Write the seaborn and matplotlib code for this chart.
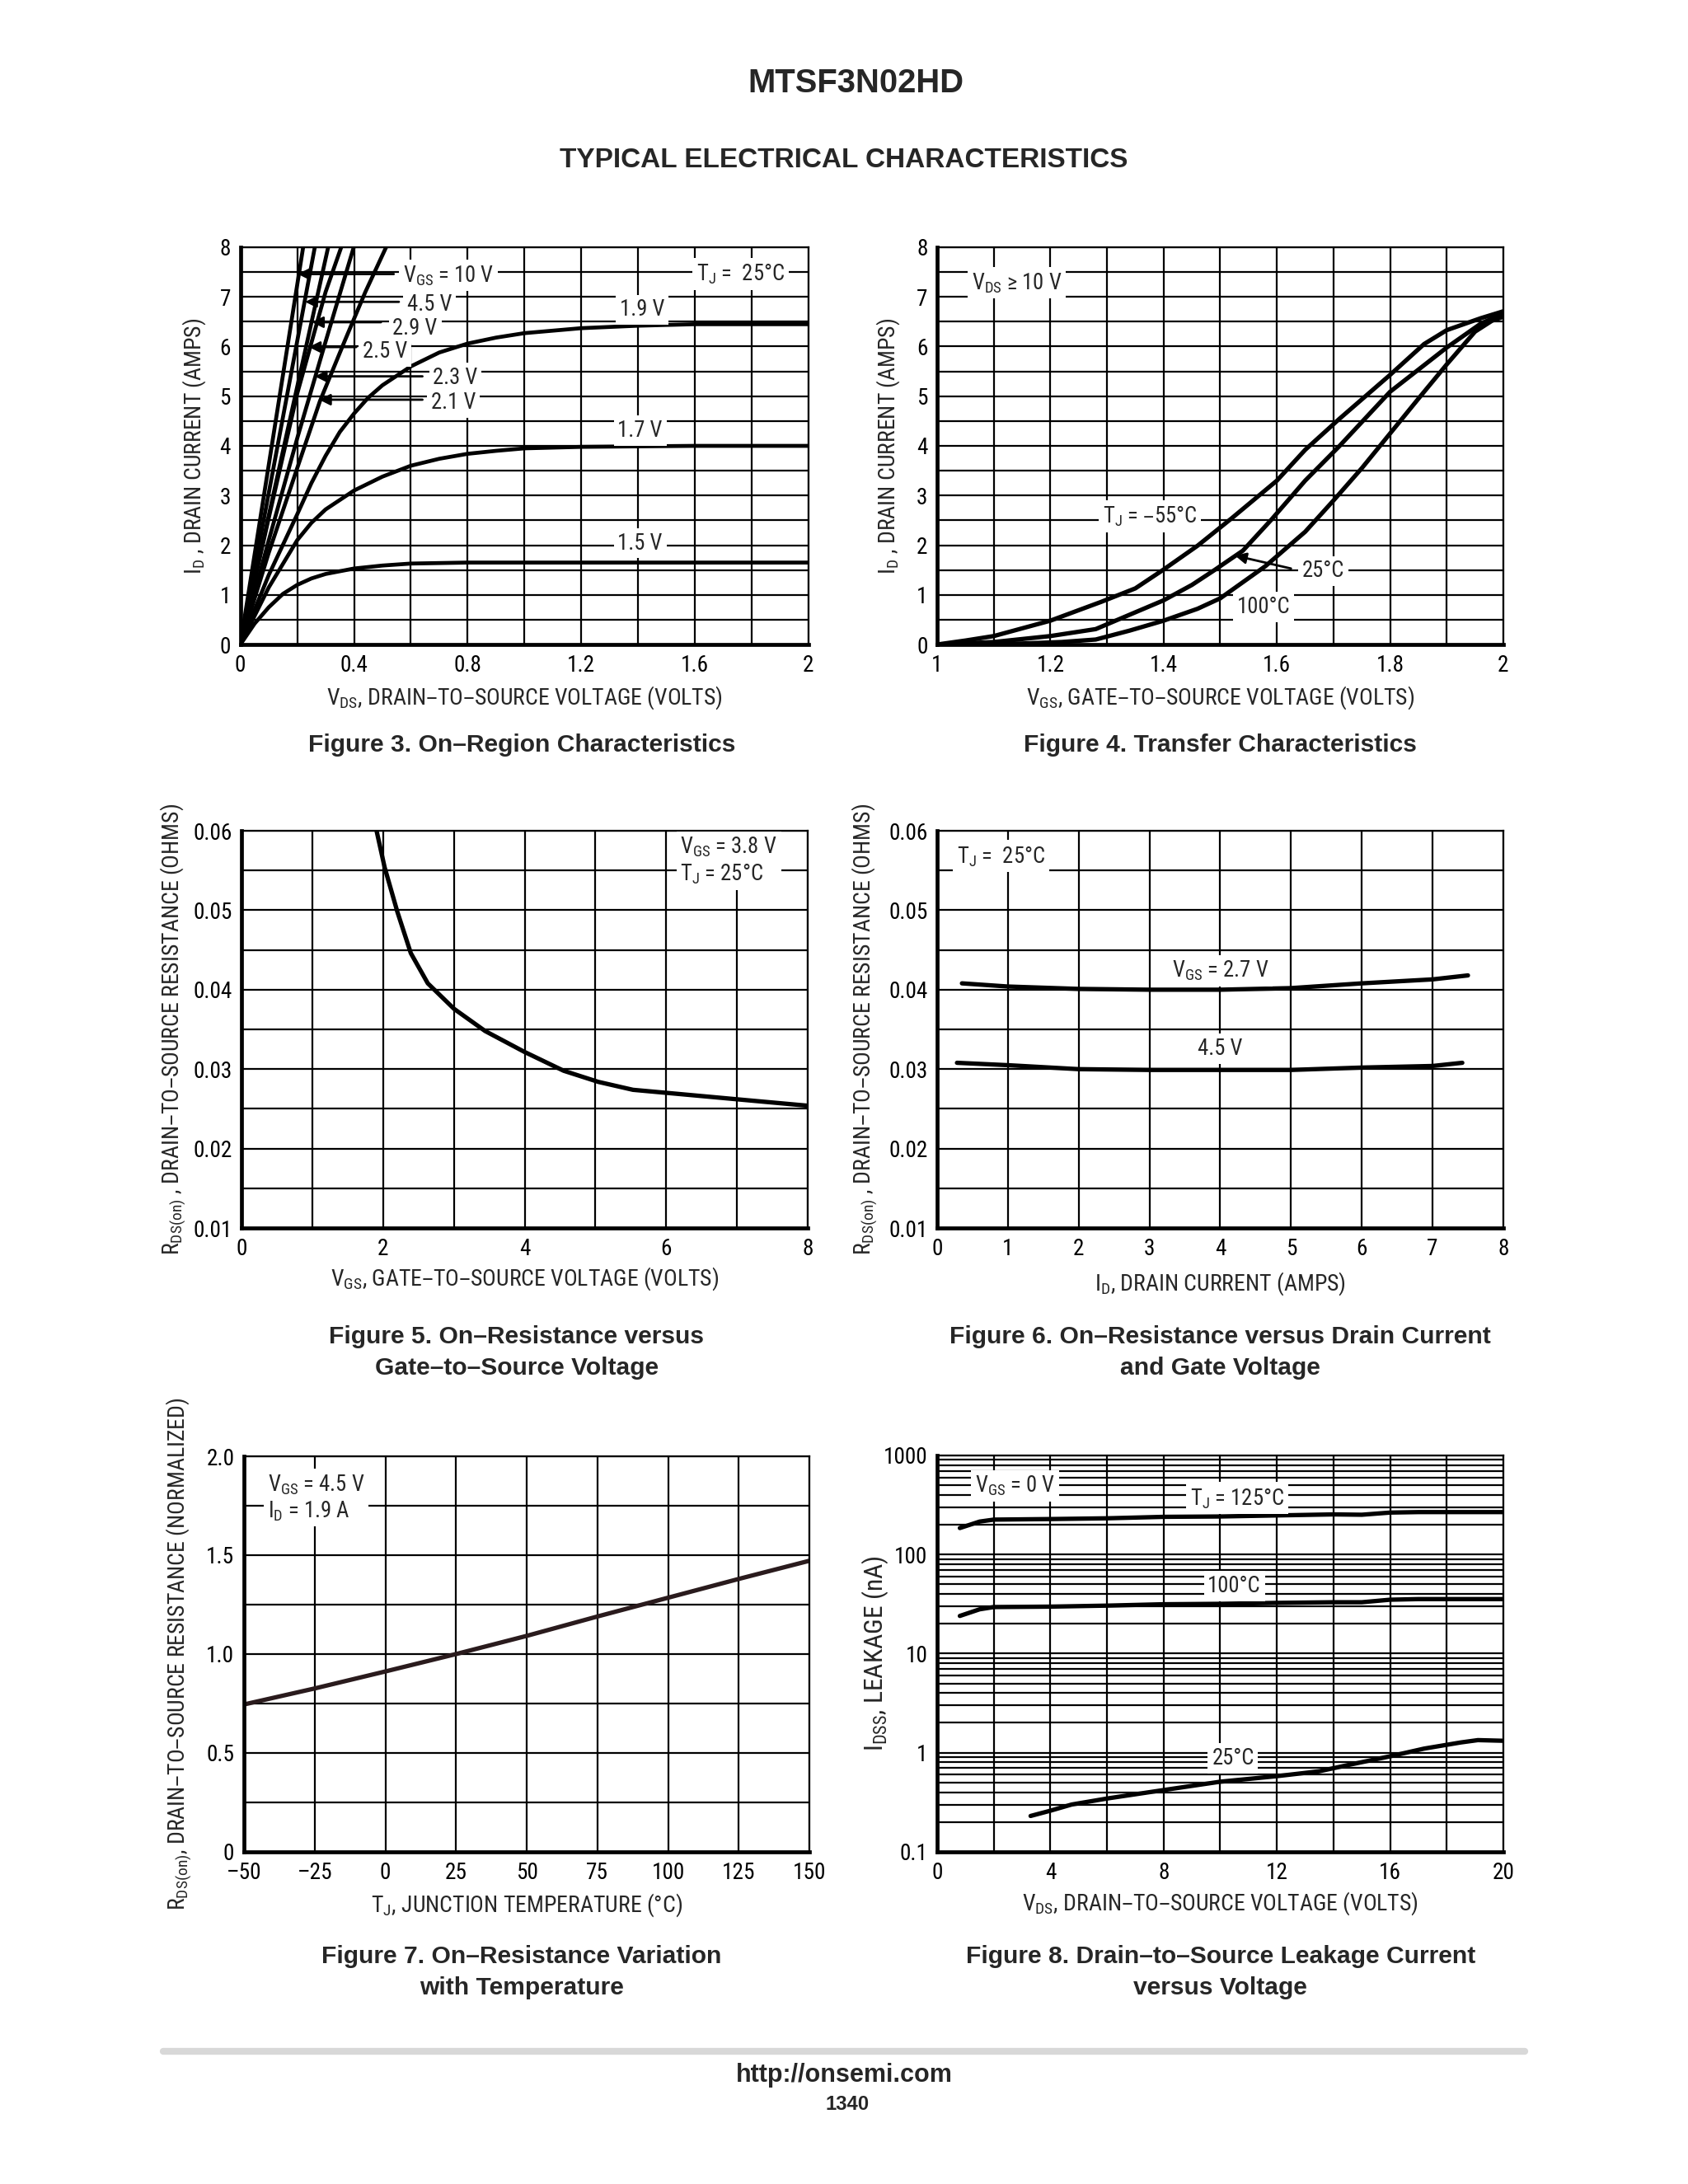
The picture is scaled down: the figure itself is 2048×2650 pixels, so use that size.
import numpy as np
import pandas as pd
import matplotlib
matplotlib.use("Agg")
import matplotlib.pyplot as plt
import seaborn as sns
from matplotlib import font_manager as fm
from matplotlib.lines import Line2D
from matplotlib.ticker import MultipleLocator, LogLocator, NullFormatter

# ---------------- DATA ----------------
# Figure 3: On-region characteristics (VDS [V], ID [A])
F3_V_10 = [0.0, 0.221]
F3_I_10 = [0.0, 8.0]
F3_V_45 = [0.0, 0.262]
F3_I_45 = [0.0, 8.0]
F3_V_29 = [0.0, 0.15, 0.309]
F3_I_29 = [0.0, 3.9, 8.0]
F3_V_25 = [0.0, 0.10, 0.20, 0.30, 0.355]
F3_I_25 = [0.0, 2.55, 5.05, 7.1, 8.0]
F3_V_23 = [0.0, 0.10, 0.20, 0.30, 0.399]
F3_I_23 = [0.0, 2.1, 4.15, 6.1, 8.0]
F3_V_21 = [0.0, 0.10, 0.20, 0.28, 0.37, 0.44, 0.513]
F3_I_21 = [0.0, 1.85, 3.55, 4.9, 6.15, 7.1, 8.0]
F3_V_19 = [0.0, 0.1, 0.2, 0.25, 0.3, 0.35, 0.4, 0.45, 0.5, 0.6, 0.7, 0.8, 0.9, 1.0, 1.2, 1.4, 1.6, 2.0]
F3_I_19 = [0.0, 1.4, 2.62, 3.25, 3.8, 4.28, 4.65, 4.97, 5.22, 5.6, 5.88, 6.06, 6.18, 6.27, 6.37, 6.42, 6.45, 6.45]
F3_V_17 = [0.0, 0.1, 0.2, 0.25, 0.3, 0.4, 0.5, 0.6, 0.7, 0.8, 0.9, 1.0, 1.2, 1.6, 2.0]
F3_I_17 = [0.0, 1.15, 2.1, 2.45, 2.72, 3.1, 3.38, 3.6, 3.74, 3.84, 3.9, 3.95, 3.98, 4.0, 4.0]
F3_V_15 = [0.0, 0.05, 0.1, 0.15, 0.2, 0.25, 0.3, 0.4, 0.5, 0.6, 0.8, 1.2, 2.0]
F3_I_15 = [0.0, 0.42, 0.75, 1.02, 1.2, 1.33, 1.42, 1.53, 1.59, 1.63, 1.65, 1.65, 1.65]

# Figure 4: Transfer characteristics (VGS [V], ID [A])
F4_V_M55 = [1.0, 1.05, 1.10, 1.20, 1.29, 1.35, 1.40, 1.46, 1.52, 1.60, 1.65, 1.71, 1.80, 1.86, 1.90, 1.96, 2.0]
F4_I_M55 = [0.0, 0.08, 0.17, 0.48, 0.86, 1.13, 1.51, 1.99, 2.54, 3.30, 3.92, 4.54, 5.43, 6.05, 6.33, 6.57, 6.71]
F4_V_25 = [1.0, 1.10, 1.20, 1.28, 1.34, 1.40, 1.45, 1.49, 1.54, 1.59, 1.65, 1.71, 1.80, 1.90, 1.96, 2.0]
F4_I_25 = [0.0, 0.05, 0.17, 0.31, 0.60, 0.89, 1.2, 1.5, 1.89, 2.51, 3.30, 3.99, 5.09, 5.98, 6.46, 6.67]
F4_V_100 = [1.0, 1.15, 1.22, 1.28, 1.34, 1.40, 1.46, 1.50, 1.58, 1.65, 1.70, 1.75, 1.80, 1.85, 1.90, 1.95, 1.98, 2.0]
F4_I_100 = [0.0, 0.02, 0.05, 0.10, 0.28, 0.48, 0.72, 0.93, 1.58, 2.27, 2.9, 3.55, 4.25, 4.95, 5.64, 6.3, 6.52, 6.6]

# Figure 5: RDS(on) vs VGS
F5_VGS = [1.906, 2.02, 2.2, 2.39, 2.63, 3.0, 3.44, 3.99, 4.55, 5.04, 5.53, 6.15, 7.01, 8.0]
F5_RDS = [0.060, 0.0554, 0.0498, 0.0446, 0.0408, 0.0376, 0.0348, 0.0322, 0.0298, 0.0284, 0.0274, 0.0269, 0.0262, 0.0254]

# Figure 6: RDS(on) vs ID
F6_ID_27 = [0.35, 1.0, 2.0, 3.0, 4.0, 5.0, 6.0, 7.0, 7.5]
F6_R_27 = [0.0408, 0.0404, 0.0401, 0.0400, 0.0400, 0.0402, 0.0408, 0.0413, 0.0418]
F6_ID_45 = [0.28, 1.0, 2.0, 3.0, 4.0, 5.0, 6.0, 7.0, 7.42]
F6_R_45 = [0.0308, 0.0305, 0.0300, 0.0299, 0.0299, 0.0299, 0.0302, 0.0304, 0.0308]

# Figure 7: normalized RDS(on) vs TJ
F7_TJ = [-50, -25, 0, 25, 50, 75, 100, 125, 150]
F7_RN = [0.745, 0.826, 0.912, 1.0, 1.092, 1.19, 1.285, 1.38, 1.472]

# Figure 8: IDSS leakage vs VDS
F8_V_HOT = [0.8, 1.5, 2.0, 4.0, 6.0, 8.0, 10.0, 12.0, 14.0, 15.0, 16.0, 17.0, 20.0]
F8_I_125 = [185, 215, 225, 228, 232, 240, 242, 248, 254, 252, 265, 268, 268]
F8_I_100 = [24, 28, 29.5, 29.8, 30.5, 31.5, 31.8, 32.5, 33, 33, 35, 35.5, 35.5]
F8_V_25 = [3.3, 4.0, 4.75, 6.0, 8.0, 10.0, 12.0, 13.5, 14.6, 16.0, 17.2, 18.5, 19.1, 20.0]
F8_I_25 = [0.23, 0.26, 0.30, 0.345, 0.42, 0.51, 0.58, 0.65, 0.76, 0.92, 1.10, 1.27, 1.34, 1.32]

# ---------------- STYLE ----------------
sns.set_theme(style="white")
avail = {f.name for f in fm.fontManager.ttflist}
COND = next((f for f in ["Liberation Sans Narrow", "Roboto Condensed", "Open Sans Condensed"] if f in avail),
            "Liberation Sans")
BOLD = "Liberation Sans" if "Liberation Sans" in avail else "DejaVu Sans"
plt.rcParams["font.family"] = [COND, "DejaVu Sans"]
plt.rcParams["mathtext.default"] = "regular"
plt.rcParams["axes.unicode_minus"] = False

FS_TICK = 9.8
FS_LAB = 10.0
FS = 9.6
LW = 1.9
GRID_LW = 0.8
BOX = dict(boxstyle="square,pad=0.18", fc="white", ec="none")

fig = plt.figure(figsize=(10.24, 13.25), dpi=200)
fig.patch.set_facecolor("white")


def style_axes(ax):
    ax.set_facecolor("white")
    ax.set_axisbelow(True)
    ax.grid(True, which="both", color="black", lw=GRID_LW)
    for s in ["left", "bottom"]:
        ax.spines[s].set_linewidth(1.7)
        ax.spines[s].set_color("black")
    for s in ["top", "right"]:
        ax.spines[s].set_linewidth(0.8)
        ax.spines[s].set_color("black")
    ax.tick_params(which="both", length=0, pad=4.2, labelsize=FS_TICK, colors="black")


def draw(ax, xs, ys, color="black", lw=LW):
    df = pd.DataFrame({"x": xs, "y": ys})
    sns.lineplot(data=df, x="x", y="y", ax=ax, color=color, lw=lw, sort=False,
                 estimator=None, legend=False, solid_capstyle="round", solid_joinstyle="round")


def labels(ax, xl, yl, xpos, ypos):
    ax.set_xlabel(xl, fontsize=FS_LAB)
    ax.set_ylabel(yl, fontsize=FS_LAB)
    ax.xaxis.set_label_coords(0.5, xpos)
    ax.xaxis.label.set_verticalalignment("center")
    ax.yaxis.set_label_coords(ypos, 0.5)
    ax.yaxis.label.set_verticalalignment("center")


def note(ax, x, y, s, ha="center"):
    ax.text(x, y, s, ha=ha, va="center", fontsize=FS, bbox=BOX, zorder=6)


def arrow(ax, tip, tail):
    ax.annotate("", xy=tip, xytext=tail,
                arrowprops=dict(arrowstyle="-|>", color="black", lw=1.0,
                                mutation_scale=10, shrinkA=0, shrinkB=0), zorder=5)


# ---------------- FIGURE 3 ----------------
ax3 = fig.add_axes([0.1424, 0.7049, 0.3366, 0.1819])
style_axes(ax3)
for xs, ys in [(F3_V_10, F3_I_10), (F3_V_45, F3_I_45), (F3_V_29, F3_I_29), (F3_V_25, F3_I_25),
               (F3_V_23, F3_I_23), (F3_V_21, F3_I_21), (F3_V_19, F3_I_19), (F3_V_17, F3_I_17),
               (F3_V_15, F3_I_15)]:
    draw(ax3, xs, ys, lw=1.7)
ax3.set_xlim(0, 2)
ax3.set_ylim(0, 8)
ax3.set_xticks([0, 0.4, 0.8, 1.2, 1.6, 2.0], ["0", "0.4", "0.8", "1.2", "1.6", "2"])
ax3.set_yticks(range(0, 9))
ax3.xaxis.set_minor_locator(MultipleLocator(0.2))
ax3.yaxis.set_minor_locator(MultipleLocator(0.5))
labels(ax3, "V$_{DS}$, DRAIN–TO–SOURCE VOLTAGE (VOLTS)", "I$_{D}$ , DRAIN CURRENT (AMPS)", -0.134, -0.082)
arrow(ax3, (0.202, 7.46), (0.54, 7.46))
arrow(ax3, (0.228, 6.90), (0.558, 6.90))
arrow(ax3, (0.252, 6.49), (0.495, 6.49))
arrow(ax3, (0.241, 5.99), (0.408, 5.99))
arrow(ax3, (0.262, 5.40), (0.641, 5.40))
arrow(ax3, (0.277, 4.93), (0.641, 4.93))
note(ax3, 0.573, 7.43, "V$_{GS}$ = 10 V", ha="left")
note(ax3, 0.665, 6.84, "4.5 V")
note(ax3, 0.615, 6.36, "2.9 V")
note(ax3, 0.51, 5.90, "2.5 V")
note(ax3, 0.757, 5.37, "2.3 V")
note(ax3, 0.75, 4.87, "2.1 V")
note(ax3, 1.415, 6.74, "1.9 V")
note(ax3, 1.407, 4.31, "1.7 V")
note(ax3, 1.407, 2.04, "1.5 V")
note(ax3, 1.76, 7.46, "T$_{J}$ =  25°C")

# ---------------- FIGURE 4 ----------------
ax4 = fig.add_axes([0.5552, 0.7049, 0.3354, 0.1819])
style_axes(ax4)
for xs, ys in [(F4_V_M55, F4_I_M55), (F4_V_25, F4_I_25), (F4_V_100, F4_I_100)]:
    draw(ax4, xs, ys)
ax4.set_xlim(1, 2)
ax4.set_ylim(0, 8)
ax4.set_xticks([1.0, 1.2, 1.4, 1.6, 1.8, 2.0], ["1", "1.2", "1.4", "1.6", "1.8", "2"])
ax4.set_yticks(range(0, 9))
ax4.xaxis.set_minor_locator(MultipleLocator(0.1))
ax4.yaxis.set_minor_locator(MultipleLocator(0.5))
labels(ax4, "V$_{GS}$, GATE–TO–SOURCE VOLTAGE (VOLTS)", "I$_{D}$ , DRAIN CURRENT (AMPS)", -0.134, -0.086)
note(ax4, 1.141, 7.28, "V$_{DS}$ ≥ 10 V")
note(ax4, 1.376, 2.58, "T$_{J}$ = –55°C")
arrow(ax4, (1.526, 1.79), (1.625, 1.53))
note(ax4, 1.682, 1.48, "25°C")
note(ax4, 1.576, 0.76, "100°C")

# ---------------- FIGURE 5 ----------------
ax5 = fig.add_axes([0.1432, 0.4377, 0.3353, 0.1819])
style_axes(ax5)
draw(ax5, F5_VGS, F5_RDS)
ax5.set_xlim(0, 8)
ax5.set_ylim(0.01, 0.06)
ax5.set_xticks([0, 2, 4, 6, 8])
ax5.set_yticks([0.01, 0.02, 0.03, 0.04, 0.05, 0.06], ["0.01", "0.02", "0.03", "0.04", "0.05", "0.06"])
ax5.xaxis.set_minor_locator(MultipleLocator(1))
ax5.yaxis.set_minor_locator(MultipleLocator(0.005))
labels(ax5, "V$_{GS}$, GATE–TO–SOURCE VOLTAGE (VOLTS)",
       "R$_{DS(on)}$ , DRAIN–TO–SOURCE RESISTANCE (OHMS)", -0.127, -0.121)
ax5.text(6.2, 0.0562, "V$_{GS}$ = 3.8 V\nT$_{J}$ = 25°C", ha="left", va="center", fontsize=FS,
         bbox=BOX, zorder=6, linespacing=1.15)

# ---------------- FIGURE 6 ----------------
ax6 = fig.add_axes([0.5552, 0.4377, 0.3354, 0.1819])
style_axes(ax6)
draw(ax6, F6_ID_27, F6_R_27)
draw(ax6, F6_ID_45, F6_R_45)
ax6.set_xlim(0, 8)
ax6.set_ylim(0.01, 0.06)
ax6.set_xticks(range(0, 9))
ax6.set_yticks([0.01, 0.02, 0.03, 0.04, 0.05, 0.06], ["0.01", "0.02", "0.03", "0.04", "0.05", "0.06"])
ax6.yaxis.set_minor_locator(MultipleLocator(0.005))
labels(ax6, "I$_{D}$, DRAIN CURRENT (AMPS)",
       "R$_{DS(on)}$ , DRAIN–TO–SOURCE RESISTANCE (OHMS)", -0.141, -0.127)
note(ax6, 0.9, 0.0568, "T$_{J}$ =  25°C")
note(ax6, 4.0, 0.0424, "V$_{GS}$ = 2.7 V")
note(ax6, 4.0, 0.0326, "4.5 V")

# ---------------- FIGURE 7 ----------------
ax7 = fig.add_axes([0.1445, 0.1521, 0.3351, 0.1811])
style_axes(ax7)
draw(ax7, F7_TJ, F7_RN, color="#2a1b1d")
ax7.set_xlim(-50, 150)
ax7.set_ylim(0, 2.0)
ax7.set_xticks(range(-50, 151, 25), ["–50", "–25", "0", "25", "50", "75", "100", "125", "150"])
ax7.set_yticks([0, 0.5, 1.0, 1.5, 2.0], ["0", "0.5", "1.0", "1.5", "2.0"])
ax7.yaxis.set_minor_locator(MultipleLocator(0.25))
labels(ax7, "T$_{J}$, JUNCTION TEMPERATURE (°C)",
       "R$_{DS(on)}$, DRAIN–TO–SOURCE RESISTANCE (NORMALIZED)", -0.134, -0.115)
ax7.text(-41.5, 1.79, "V$_{GS}$ = 4.5 V\nI$_{D}$ = 1.9 A", ha="left", va="center", fontsize=FS,
         bbox=BOX, zorder=6, linespacing=1.15)

# ---------------- FIGURE 8 ----------------
ax8 = fig.add_axes([0.5552, 0.1521, 0.3354, 0.1815])
style_axes(ax8)
ax8.set_yscale("log")
draw(ax8, F8_V_HOT, F8_I_125)
draw(ax8, F8_V_HOT, F8_I_100)
draw(ax8, F8_V_25, F8_I_25)
ax8.set_xlim(0, 20)
ax8.set_ylim(0.1, 1000)
ax8.set_xticks([0, 4, 8, 12, 16, 20])
ax8.xaxis.set_minor_locator(MultipleLocator(2))
ax8.set_yticks([0.1, 1, 10, 100, 1000], ["0.1", "1", "10", "100", "1000"])
ax8.yaxis.set_minor_locator(LogLocator(base=10, subs=np.arange(2, 10)))
ax8.yaxis.set_minor_formatter(NullFormatter())
labels(ax8, "V$_{DS}$, DRAIN–TO–SOURCE VOLTAGE (VOLTS)", "I$_{DSS}$, LEAKAGE (nA)", -0.131, -0.110)
ax8.yaxis.label.set_fontsize(11.4)
note(ax8, 2.74, 494, "V$_{GS}$ = 0 V")
note(ax8, 10.6, 370, "T$_{J}$ = 125°C")
note(ax8, 10.5, 48, "100°C")
note(ax8, 10.45, 0.88, "25°C")

# ---------------- PAGE TEXT ----------------
fig.text(0.507, 0.9617, "MTSF3N02HD", ha="center", va="center", fontsize=14.4,
         weight="bold", family=BOLD)
fig.text(0.5, 0.9267, "TYPICAL ELECTRICAL CHARACTERISTICS", ha="center", va="center",
         fontsize=12.0, weight="bold", family=BOLD)

CAP = dict(ha="center", va="center", fontsize=10.8, weight="bold", family=BOLD, linespacing=1.42)
fig.text(0.309, 0.6588, "Figure 3. On–Region Characteristics", **CAP)
fig.text(0.723, 0.6588, "Figure 4. Transfer Characteristics", **CAP)
fig.text(0.306, 0.3808, "Figure 5. On–Resistance versus\nGate–to–Source Voltage", **CAP)
fig.text(0.723, 0.3808, "Figure 6. On–Resistance versus Drain Current\nand Gate Voltage", **CAP)
fig.text(0.309, 0.0970, "Figure 7. On–Resistance Variation\nwith Temperature", **CAP)
fig.text(0.723, 0.0970, "Figure 8. Drain–to–Source Leakage Current\nversus Voltage", **CAP)

fig.add_artist(Line2D([0.0965, 0.9035], [0.0606, 0.0606], transform=fig.transFigure,
                      lw=3.0, color="#d8d8d8", solid_capstyle="round"))
fig.text(0.5, 0.0497, "http://onsemi.com", ha="center", va="center", fontsize=11.0,
         weight="bold", family=BOLD)
fig.text(0.502, 0.0364, "1340", ha="center", va="center", fontsize=8.6, weight="bold", family=BOLD)

fig.savefig("out.png", dpi=200, facecolor="white")
